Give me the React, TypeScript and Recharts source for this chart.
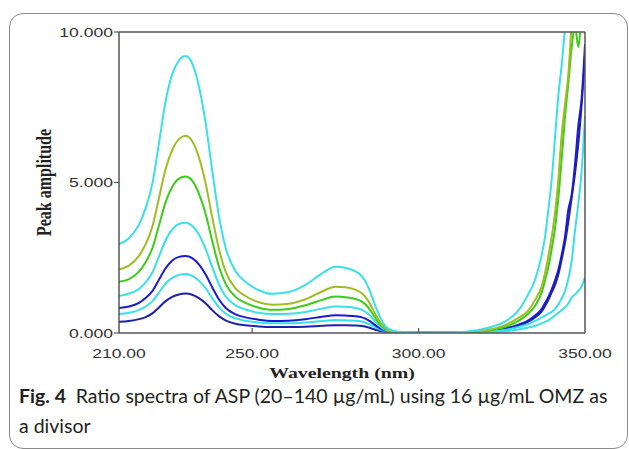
import React from "react";
import { LineChart, Line, XAxis, YAxis, Label } from "recharts";

// wavelength (nm), sampled densely where the spectra change fast
const wavelengths = [
  210, 213, 216, 218, 220, 222, 224, 226, 228, 230,
  232, 234, 236, 238, 240, 242, 245, 248, 252, 256,
  261, 266, 271, 275, 278, 281, 283, 285, 287, 289,
  291, 294, 300, 310, 318, 322, 326, 330, 333, 335,
  337, 338, 339, 340, 341, 342, 343, 344, 345, 346,
  347, 348, 349, 350,
];

// ratio spectra, one per ASP concentration (µg/mL)
const asp20 = [
  0.37, 0.4, 0.46, 0.53, 0.65, 0.85, 1.06, 1.2, 1.28, 1.31,
  1.27, 1.16, 0.99, 0.76, 0.56, 0.42, 0.31, 0.26, 0.22, 0.2,
  0.2, 0.21, 0.24, 0.26, 0.26, 0.25, 0.23, 0.18, 0.11, 0.05,
  0.03, 0.02, 0.02, 0.02, 0.02, 0.06, 0.12, 0.24, 0.38, 0.52,
  0.72, 0.9, 1.1, 1.35, 1.6, 1.95, 2.45, 3.0, 3.7, 4.5,
  5.3, 6.3, 7.6, 9.2,
];
const asp40 = [
  0.63, 0.67, 0.77, 0.88, 1.05, 1.34, 1.64, 1.83, 1.93, 1.96,
  1.9, 1.74, 1.49, 1.16, 0.86, 0.65, 0.49, 0.41, 0.35, 0.32,
  0.32, 0.35, 0.4, 0.43, 0.42, 0.41, 0.38, 0.3, 0.19, 0.09,
  0.04, 0.02, 0.02, 0.02, 0.02, 0.03, 0.06, 0.12, 0.18, 0.24,
  0.32, 0.37, 0.42, 0.5, 0.58, 0.67, 0.76, 0.85, 0.98, 1.18,
  1.28, 1.4, 1.55, 1.85,
];
const asp60 = [
  0.83, 0.88, 1.0, 1.16, 1.39, 1.77, 2.15, 2.41, 2.53, 2.56,
  2.49, 2.28, 1.95, 1.52, 1.12, 0.84, 0.62, 0.52, 0.44, 0.4,
  0.41, 0.46, 0.54, 0.59, 0.58, 0.56, 0.52, 0.42, 0.26, 0.12,
  0.05, 0.02, 0.02, 0.02, 0.03, 0.08, 0.15, 0.28, 0.42, 0.58,
  0.8, 1.0, 1.2, 1.45, 1.75, 2.1, 2.6, 3.2, 4.1, 4.6,
  5.6, 6.9, 7.8, 9.6,
];
const asp80 = [
  1.23, 1.31, 1.46, 1.68, 2.0, 2.54, 3.08, 3.44, 3.62, 3.66,
  3.56, 3.27, 2.8, 2.2, 1.62, 1.22, 0.92, 0.78, 0.67, 0.63,
  0.64, 0.7, 0.81, 0.88, 0.87, 0.83, 0.77, 0.62, 0.38, 0.17,
  0.06, 0.02, 0.02, 0.02, 0.03, 0.05, 0.1, 0.2, 0.3, 0.4,
  0.52, 0.58, 0.64, 0.7, 0.8, 0.95, 1.15, 1.4, 1.8, 2.4,
  3.4, 4.3, 5.4, 7.2,
];
const asp100 = [
  1.7, 1.79, 2.04, 2.35, 2.81, 3.57, 4.35, 4.86, 5.13, 5.2,
  5.06, 4.63, 3.96, 3.06, 2.22, 1.64, 1.2, 1.0, 0.84, 0.77,
  0.8, 0.92, 1.1, 1.21, 1.19, 1.13, 1.04, 0.83, 0.5, 0.22,
  0.08, 0.03, 0.02, 0.02, 0.04, 0.1, 0.2, 0.4, 0.65, 0.9,
  1.35, 1.75, 2.2, 2.8, 3.5, 4.5, 5.8, 7.2, 8.3, 9.5,
  10.2, 9.5, 10.6, 11,
];
const asp120 = [
  2.12, 2.24, 2.56, 2.95, 3.52, 4.48, 5.45, 6.08, 6.44, 6.55,
  6.37, 5.84, 4.98, 3.85, 2.8, 2.05, 1.48, 1.23, 1.02, 0.94,
  0.97, 1.12, 1.38, 1.54, 1.52, 1.44, 1.32, 1.05, 0.63, 0.28,
  0.1, 0.03, 0.02, 0.02, 0.05, 0.13, 0.26, 0.5, 0.75, 1.1,
  1.55, 2.0, 2.55, 3.2, 4.0, 5.1, 6.6, 7.6, 8.6, 10.2,
  10.8, 11, 11, 11,
];
const asp140 = [
  2.95, 3.15, 3.6, 4.15, 4.95, 6.3, 7.7, 8.6, 9.05, 9.2,
  8.95, 8.2, 7.0, 5.4, 3.9, 2.85, 2.05, 1.7, 1.42, 1.3,
  1.36, 1.6, 1.98, 2.2, 2.17, 2.05, 1.88, 1.5, 0.9, 0.4,
  0.14, 0.04, 0.02, 0.02, 0.1, 0.21, 0.38, 0.75, 1.3, 1.77,
  2.6, 3.2, 4.1, 5.1, 6.5, 7.9, 8.9, 10.1, 10.8, 11,
  11, 11, 11, 11,
];

const xTicks = [210, 250, 300, 350];
const yTicks = [0, 5, 10];

const series = [
  { key: "asp20", values: asp20, color: "#1e22a6" },
  { key: "asp40", values: asp40, color: "#38e0ea" },
  { key: "asp60", values: asp60, color: "#1a1ad2" },
  { key: "asp80", values: asp80, color: "#38e0ea" },
  { key: "asp100", values: asp100, color: "#3acd18" },
  { key: "asp120", values: asp120, color: "#9fbd22" },
  { key: "asp140", values: asp140, color: "#38e0ea" },
];

const data = wavelengths.map((wl, i) => {
  const row: Record<string, number> = { wl };
  series.forEach((s) => {
    row[s.key] = s.values[i];
  });
  return row;
});

const AXIS = "#555";
const STRETCH = 1.35;
const SANS = "'Liberation Sans', Arial, sans-serif";
const SERIF = "'Liberation Serif', 'Times New Roman', serif";

function XTick(props: any) {
  const { x, y, payload } = props;
  const inner = payload.value > 210 && payload.value < 350;
  return (
    <g>
      {inner && <line x1={x} x2={x} y1={y} y2={y - 5} stroke={AXIS} strokeWidth={1.2} />}
      <text
        transform={`translate(${x},${y + 25}) scale(${STRETCH},1)`}
        textAnchor="middle"
        fontFamily={SANS}
        fontSize={13}
        fill="#333"
      >
        {payload.value.toFixed(2)}
      </text>
    </g>
  );
}

function YTick(props: any) {
  const { x, y, payload } = props;
  return (
    <text
      transform={`translate(${x},${y}) scale(${STRETCH},1)`}
      textAnchor="end"
      dy="0.35em"
      fontFamily={SANS}
      fontSize={13}
      fill="#333"
    >
      {payload.value.toFixed(3)}
    </text>
  );
}

function XTitle(props: any) {
  const vb = props.viewBox || { x: 119, y: 333, width: 465 };
  const cx = vb.x + vb.width / 2 - 10;
  return (
    <text
      transform={`translate(${cx},${vb.y + 45}) scale(1.32,1)`}
      textAnchor="middle"
      fontFamily={SERIF}
      fontWeight="bold"
      fontSize={15}
      fill="#222"
    >
      Wavelength (nm)
    </text>
  );
}

function YTitle(props: any) {
  const vb = props.viewBox || { x: 0, y: 33, height: 300 };
  const cy = vb.y + vb.height / 2;
  return (
    <text
      transform={`translate(43,${cy}) rotate(-90) scale(1,${STRETCH})`}
      textAnchor="middle"
      dy="0.35em"
      fontFamily={SERIF}
      fontWeight="bold"
      fontSize={16}
      fill="#222"
    >
      Peak amplitude
    </text>
  );
}

export default function App() {
  return (
    <div style={{ position: "absolute", left: 0, top: 0, width: 629, height: 449, background: "#fff", overflow: "hidden" }}>
      <div
        style={{
          position: "absolute",
          left: 9,
          top: 13,
          width: 619,
          height: 436,
          border: "1.5px solid #8a8a8a",
          borderRadius: 14,
          boxSizing: "border-box",
        }}
      />
      <div style={{ position: "absolute", left: 0, top: 0 }}>
        <LineChart width={629} height={390} data={data} margin={{ top: 32, right: 44, bottom: 7, left: 0 }}>
          <XAxis
            dataKey="wl"
            type="number"
            domain={[210, 350]}
            ticks={xTicks}
            allowDataOverflow
            height={50}
            tickSize={0}
            tickMargin={0}
            tickLine={false}
            axisLine={{ stroke: AXIS, strokeWidth: 1.5 }}
            tick={<XTick />}
            interval={0}
          >
            <Label content={<XTitle />} />
          </XAxis>
          <XAxis
            xAxisId="top"
            dataKey="wl"
            type="number"
            orientation="top"
            domain={[210, 350]}
            ticks={[250, 300]}
            height={1}
            mirror
            tickSize={5}
            tick={false}
            tickLine={{ stroke: AXIS, strokeWidth: 1.2 }}
            axisLine={{ stroke: AXIS, strokeWidth: 1.5 }}
          />
          <YAxis
            type="number"
            domain={[0, 10]}
            ticks={yTicks}
            allowDataOverflow
            width={119}
            tickSize={5}
            tickMargin={1}
            tickLine={{ stroke: AXIS, strokeWidth: 1.2 }}
            axisLine={{ stroke: AXIS, strokeWidth: 1.5 }}
            tick={<YTick />}
            interval={0}
          >
            <Label content={<YTitle />} />
          </YAxis>
          <YAxis
            yAxisId="right"
            orientation="right"
            type="number"
            domain={[0, 10]}
            ticks={[5]}
            width={1}
            mirror
            tickSize={5}
            tick={false}
            tickLine={{ stroke: AXIS, strokeWidth: 1.2 }}
            axisLine={{ stroke: AXIS, strokeWidth: 1.5 }}
          />
          {series.map((s) => (
            <Line
              key={s.key}
              dataKey={s.key}
              type="monotone"
              stroke={s.color}
              strokeWidth={2}
              dot={false}
              activeDot={false}
              isAnimationActive={false}
            />
          ))}
        </LineChart>
      </div>
      <div
        style={{
          position: "absolute",
          left: 19,
          top: 381,
          width: 605,
          fontFamily: "Lato, 'Open Sans', sans-serif",
          fontSize: 19.5,
          lineHeight: "30px",
          color: "#231f20",
          whiteSpace: "nowrap",
        }}
      >
        <b>Fig. 4</b>
        {"\u2002"}Ratio spectra of ASP (20–140 µg/mL) using 16 µg/mL OMZ as
        <br />a divisor
      </div>
    </div>
  );
}
